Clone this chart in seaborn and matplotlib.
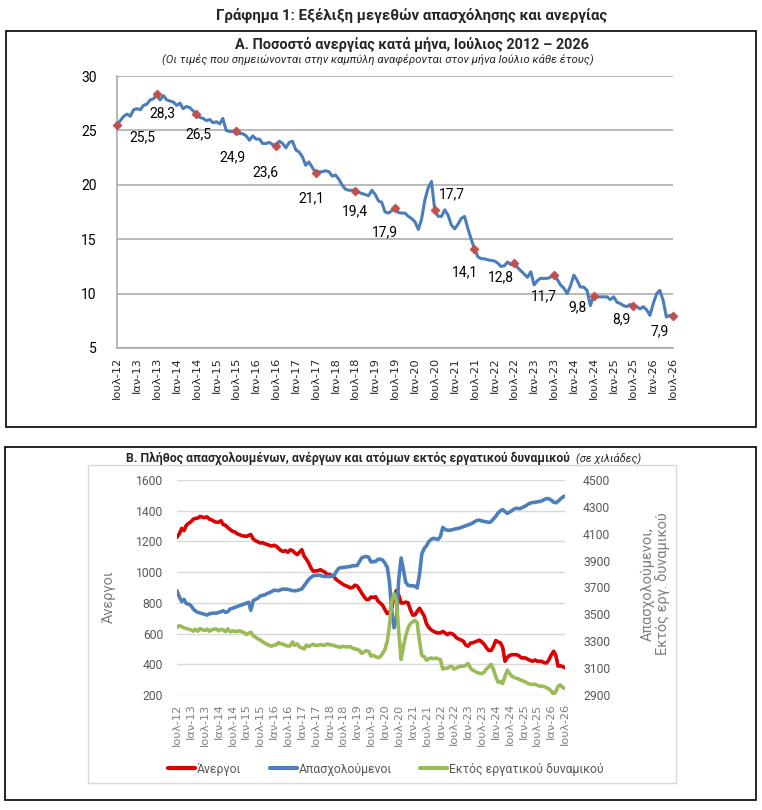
import numpy as np
import pandas as pd
import matplotlib
matplotlib.use("Agg")
import matplotlib.pyplot as plt
import matplotlib.patches as mpatches
from matplotlib.lines import Line2D
import seaborn as sns

W, H = 762, 810

# monthly data, July 2012 - July 2026
months = pd.date_range("2012-07-01", periods=169, freq="MS")

tick_labels = ["Ιουλ-12", "Ιαν-13", "Ιουλ-13", "Ιαν-14", "Ιουλ-14", "Ιαν-15",
               "Ιουλ-15", "Ιαν-16", "Ιουλ-16", "Ιαν-17", "Ιουλ-17", "Ιαν-18",
               "Ιουλ-18", "Ιαν-19", "Ιουλ-19", "Ιαν-20", "Ιουλ-20", "Ιαν-21",
               "Ιουλ-21", "Ιαν-22", "Ιουλ-22", "Ιαν-23", "Ιουλ-23", "Ιαν-24",
               "Ιουλ-24", "Ιαν-25", "Ιουλ-25", "Ιαν-26", "Ιουλ-26"]

unemployment_rate = [
    25.5, 25.9, 26.3, 26.5, 26.3, 26.9, 27.0, 26.9, 27.3, 27.4, 27.8, 27.9,
    28.3, 27.8, 28.2, 27.8, 27.7, 27.6, 27.3, 27.5, 27.0, 27.2, 27.1, 26.8,
    26.5, 26.2, 26.1, 25.9, 26.0, 25.7, 25.8, 25.6, 26.1, 25.0, 24.9, 24.9,
    24.9, 24.7, 24.7, 24.5, 24.1, 24.5, 24.2, 24.2, 23.8, 23.8, 23.9, 23.7,
    23.6, 24.0, 23.8, 23.4, 23.9, 24.0, 23.2, 23.0, 22.6, 21.8, 22.1, 21.6,
    21.1, 21.2, 21.2, 21.3, 21.2, 20.8, 20.9, 20.5, 20.0, 19.6, 19.5, 19.5,
    19.4, 19.3, 19.2, 19.1, 19.0, 19.5, 19.1, 18.5, 18.4, 17.5, 17.4, 17.6,
    17.9, 17.45, 17.4, 17.4, 17.1, 16.9, 16.6, 15.9, 16.8, 18.6, 19.7, 20.3,
    17.7, 17.1, 17.1, 17.7, 17.2, 16.3, 15.95, 16.4, 16.9, 17.1, 16.0, 15.0,
    14.1, 13.4, 13.2, 13.2, 13.1, 13.05, 13.0, 12.8, 12.5, 12.55, 12.9, 12.65,
    12.8, 12.4, 12.1, 11.8, 11.5, 12.0, 10.8, 11.2, 11.4, 11.4, 11.4, 11.5,
    11.7, 11.3, 10.8, 10.5, 10.0, 10.7, 11.7, 11.2, 10.6, 10.6, 10.3, 8.9,
    9.8, 9.7, 9.7, 9.7, 9.7, 9.45, 9.7, 9.2, 9.1, 8.9, 8.8, 9.0,
    8.9, 8.8, 8.6, 8.8, 8.5, 8.0, 9.1, 10.0, 10.3, 9.4, 7.85, 8.0,
    7.9]

unemployed = [
    1227, 1250, 1285, 1270, 1305, 1318, 1328, 1345, 1350, 1352, 1363, 1358,
    1355, 1360, 1345, 1340, 1331, 1325, 1325, 1335, 1310, 1305, 1290, 1278,
    1266, 1262, 1250, 1244, 1238, 1235, 1233, 1240, 1245, 1216, 1205, 1198,
    1190, 1192, 1185, 1180, 1175, 1170, 1175, 1168, 1155, 1140, 1135, 1140,
    1129, 1145, 1140, 1125, 1114, 1130, 1146, 1103, 1085, 1060, 1027, 1006,
    1008, 1010, 1016, 1008, 1000, 984, 985, 978, 970, 951, 940, 930,
    919, 912, 906, 897, 900, 915, 910, 886, 865, 840, 822, 822,
    838, 835, 840, 812, 798, 785, 756, 730, 735, 770, 850, 880,
    850, 799, 799, 805, 800, 756, 720, 722, 745, 765, 740, 715,
    665, 640, 625, 615, 608, 604, 605, 614, 605, 593, 602, 600,
    590, 572, 565, 558, 550, 525, 518, 538, 540, 545, 552, 557,
    545, 530, 507, 490, 490, 517, 555, 545, 540, 510, 420, 445,
    458, 462, 463, 462, 456, 442, 442, 440, 432, 425, 420, 428,
    420, 420, 418, 410, 409, 430, 460, 485, 460, 388, 390, 385,
    377]

employed = [
    3676, 3630, 3595, 3612, 3580, 3577, 3565, 3540, 3525, 3515, 3510, 3505,
    3500, 3495, 3505, 3508, 3510, 3508, 3515, 3520, 3527, 3515, 3520, 3540,
    3545, 3552, 3558, 3565, 3570, 3577, 3583, 3590, 3530, 3602, 3612, 3620,
    3636, 3642, 3645, 3655, 3662, 3670, 3680, 3678, 3676, 3685, 3688, 3688,
    3686, 3682, 3676, 3676, 3678, 3683, 3690, 3713, 3735, 3760, 3775, 3787,
    3790, 3792, 3790, 3784, 3782, 3782, 3782, 3784, 3786, 3820, 3842, 3848,
    3849, 3852, 3854, 3856, 3862, 3862, 3864, 3895, 3920, 3928, 3931, 3925,
    3890, 3893, 3894, 3910, 3910, 3905, 3882, 3850, 3740, 3520, 3400, 3470,
    3760, 3920, 3832, 3740, 3716, 3713, 3713, 3710, 3696, 3800, 3950, 3990,
    4010, 4042, 4058, 4066, 4062, 4057, 4079, 4147, 4134, 4126, 4126, 4129,
    4134, 4138, 4141, 4147, 4154, 4160, 4165, 4172, 4180, 4191, 4200, 4201,
    4195, 4191, 4189, 4184, 4190, 4210, 4230, 4255, 4270, 4280, 4265, 4252,
    4262, 4272, 4285, 4290, 4287, 4290, 4300, 4308, 4320, 4328, 4333, 4333,
    4338, 4340, 4345, 4355, 4362, 4360, 4350, 4335, 4330, 4342, 4358, 4373,
    4381]

outside_labour = [
    3404, 3416, 3410, 3400, 3395, 3391, 3385, 3375, 3390, 3375, 3395, 3385,
    3380, 3390, 3375, 3385, 3390, 3392, 3378, 3388, 3385, 3372, 3392, 3370,
    3378, 3374, 3372, 3378, 3372, 3365, 3350, 3360, 3368, 3342, 3330, 3318,
    3310, 3298, 3285, 3278, 3268, 3264, 3270, 3275, 3290, 3280, 3278, 3268,
    3265, 3265, 3295, 3270, 3280, 3258, 3250, 3243, 3272, 3260, 3270, 3278,
    3268, 3270, 3275, 3272, 3270, 3280, 3275, 3272, 3268, 3262, 3258, 3256,
    3262, 3258, 3258, 3260, 3248, 3243, 3240, 3230, 3210, 3220, 3230, 3225,
    3190, 3195, 3185, 3178, 3185, 3210, 3238, 3300, 3420, 3600, 3655, 3600,
    3370, 3165, 3263, 3340, 3400, 3430, 3445, 3455, 3440, 3300, 3195, 3185,
    3160, 3170, 3175, 3170, 3175, 3168, 3164, 3092, 3100, 3098, 3110, 3112,
    3092, 3102, 3110, 3114, 3114, 3120, 3135, 3100, 3085, 3077, 3067, 3062,
    3060, 3070, 3095, 3110, 3128, 3090, 3035, 2995, 3000, 2985, 3040, 3085,
    3060, 3040, 3030, 3025, 3018, 3010, 3003, 2995, 2985, 2980, 2980, 2980,
    2972, 2966, 2966, 2962, 2954, 2945, 2930, 2905, 2925, 2965, 2975, 2955,
    2950]

# where each July label sits relative to its marker (pixels right, down)
label_offsets = [(25, 12), (6, 19), (2, 20), (-4, 26), (-10, 27), (-4, 25),
                 (0, 20), (-10, 25), (17, -16), (-9, 23), (-13, 14), (-10, 21),
                 (-16, 12), (-12, 14), (-13, 15)]

BLUE_A = "#4A7EBB"
RED_MARK = "#C0504D"
RED = "#DD0000"
BLUE = "#4F7FBA"
GREEN = "#9BBB59"
GREY_TXT = "#595959"

sns.set_style("white")
plt.rcParams["font.family"] = ["Roboto", "DejaVu Sans"]

fig = plt.figure(figsize=(W / 100, H / 100), dpi=100)
renderer = fig.canvas.get_renderer()


def fx(px):
    return px / W


def fy(py):
    return 1 - py / H


def box(x0, y0, x1, y1):
    return [fx(x0), fy(y1), (x1 - x0) / W, (y1 - y0) / H]


def fit_size(s, px, **kw):
    # font size (pt) so that the text is px pixels wide
    t = fig.text(0, 0, s, fontsize=10, **kw)
    w = t.get_window_extent(renderer).width
    t.remove()
    return 10 * px / w


def frame(x0, y0, x1, y1, color, lw):
    fig.add_artist(mpatches.Rectangle((fx(x0), fy(y1)), (x1 - x0) / W, (y1 - y0) / H,
                                      transform=fig.transFigure, fill=False,
                                      edgecolor=color, lw=lw))


tick_size = fit_size("Ιουλ-12", 42, family="DejaVu Sans")
num_size = fit_size("1600", 27)
label_size = fit_size("25,5", 26)

# ---------------- titles ----------------
s = "Γράφημα 1: Εξέλιξη μεγεθών απασχόλησης και ανεργίας"
fig.text(fx(412), fy(15), s, ha="center", va="center", fontweight="bold",
         fontsize=fit_size(s, 395, fontweight="bold"))

# ---------------- panel A ----------------
frame(6, 31, 756, 427, "black", 1.2)
s = "Α. Ποσοστό ανεργίας κατά μήνα, Ιούλιος 2012 – 2026"
fig.text(fx(412), fy(45), s, ha="center", va="center", fontweight="bold",
         fontsize=fit_size(s, 356, fontweight="bold"))
s = "(Οι τιμές που σημειώνονται στην καμπύλη αναφέρονται στον μήνα Ιούλιο κάθε έτους)"
fig.text(fx(378), fy(59), s, ha="center", va="center", style="italic",
         fontsize=fit_size(s, 430, style="italic"))

ax_a = fig.add_axes(box(117, 76, 673, 348))
df_a = pd.DataFrame({"month": months, "rate": unemployment_rate})
sns.lineplot(data=df_a, x="month", y="rate", ax=ax_a, color=BLUE_A, lw=2.2, zorder=3)
july = df_a.iloc[::12]
sns.scatterplot(data=july, x="month", y="rate", ax=ax_a, marker="D", s=22,
                color=RED_MARK, edgecolor=RED_MARK, zorder=4, clip_on=False)
for (d, v), (dx, dy) in zip(zip(july["month"], july["rate"]), label_offsets):
    ax_a.annotate(f"{v:.1f}".replace(".", ","), xy=(d, v), xytext=(dx, -dy),
                  textcoords="offset pixels", ha="center", va="center",
                  fontsize=label_size, color="black")

ax_a.set_xlim(months[0], months[-1])
ax_a.set_ylim(5, 30)
ax_a.set_yticks(range(5, 31, 5))
ax_a.set_xticks(months[::6])
ax_a.set_xticklabels(tick_labels, family="DejaVu Sans")
ax_a.grid(axis="y", color="#A6A6A6", lw=1.1)
ax_a.set_axisbelow(True)
for side in ["top", "right"]:
    ax_a.spines[side].set_visible(False)
for side in ["left", "bottom"]:
    ax_a.spines[side].set_color("#A6A6A6")
    ax_a.spines[side].set_linewidth(1.1)
ax_a.tick_params(axis="x", direction="out", length=3.5, width=1, color="#A6A6A6",
                 labelsize=tick_size, pad=3, labelrotation=90, labelcolor="#262626")
ax_a.tick_params(axis="y", direction="out", length=3.5, width=1, color="#A6A6A6",
                 labelsize=label_size, pad=11, labelcolor="black")
ax_a.set_xlabel("")
ax_a.set_ylabel("")

# ---------------- panel B ----------------
frame(5, 447, 756, 800, "black", 1.2)
frame(88, 465, 676, 783, "#D9D9D9", 1.0)
s1 = "Β. Πλήθος απασχολουμένων, ανέργων και ατόμων εκτός εργατικού δυναμικού"
fig.text(fx(126), fy(458), s1, ha="left", va="center", fontweight="bold",
         fontsize=fit_size(s1, 445, fontweight="bold"))
s2 = "(σε χιλιάδες)"
fig.text(fx(576), fy(458), s2, ha="left", va="center", style="italic",
         fontsize=fit_size(s2, 65, style="italic"))

ax_b = fig.add_axes(box(177, 480, 565, 695))
df_b = pd.DataFrame({"month": months, "unemployed": unemployed,
                     "employed": employed, "outside": outside_labour})
sns.lineplot(data=df_b, x="month", y="unemployed", ax=ax_b, color=RED, lw=2.6)
ax_b2 = ax_b.twinx()
sns.lineplot(data=df_b, x="month", y="employed", ax=ax_b2, color=BLUE, lw=2.6)
sns.lineplot(data=df_b, x="month", y="outside", ax=ax_b2, color=GREEN, lw=2.6)

ax_b.set_xlim(months[0], months[-1])
ax_b.set_ylim(200, 1600)
ax_b.set_yticks(range(200, 1601, 200))
ax_b2.set_ylim(2900, 4500)
ax_b2.set_yticks(range(2900, 4501, 200))
ax_b.set_xticks(months[::6])
ax_b.set_xticklabels(tick_labels, family="DejaVu Sans")
ax_b.grid(axis="y", color="#D9D9D9", lw=1.0)
ax_b.set_axisbelow(True)
for a in (ax_b, ax_b2):
    for sp in a.spines.values():
        sp.set_visible(False)
    a.set_xlabel("")
    a.set_ylabel("")
ax_b.tick_params(axis="x", length=0, labelsize=tick_size, pad=6, labelrotation=90,
                 labelcolor="#7F7F7F")
ax_b.tick_params(axis="y", length=0, labelsize=num_size, pad=10, labelcolor=GREY_TXT)
ax_b2.tick_params(axis="y", length=0, labelsize=num_size, pad=13, labelcolor=GREY_TXT)

axis_title_size = fit_size("Απασχολούμενοι,", 114)
fig.text(fx(109), fy(597), "Άνεργοι", rotation=90, ha="center", va="center",
         color="#7F7F7F", fontsize=axis_title_size)
fig.text(fx(655), fy(584), "Απασχολούμενοι,\nΕκτός εργ. δυναμικού", rotation=90,
         ha="center", va="center", multialignment="center", color="#7F7F7F",
         fontsize=axis_title_size, linespacing=1.0)

legend_size = fit_size("Εκτός εργατικού δυναμικού", 155)
handles = [Line2D([], [], color=c, lw=3) for c in (RED, BLUE, GREEN)]
fig.legend(handles, ["Άνεργοι", "Απασχολούμενοι", "Εκτός εργατικού δυναμικού"],
           loc="center", bbox_to_anchor=(fx(386), fy(769)), ncol=3, frameon=False,
           handlelength=2.2, handletextpad=0.15, columnspacing=2.3,
           fontsize=legend_size, labelcolor=GREY_TXT)

fig.savefig("out.png", dpi=100)
